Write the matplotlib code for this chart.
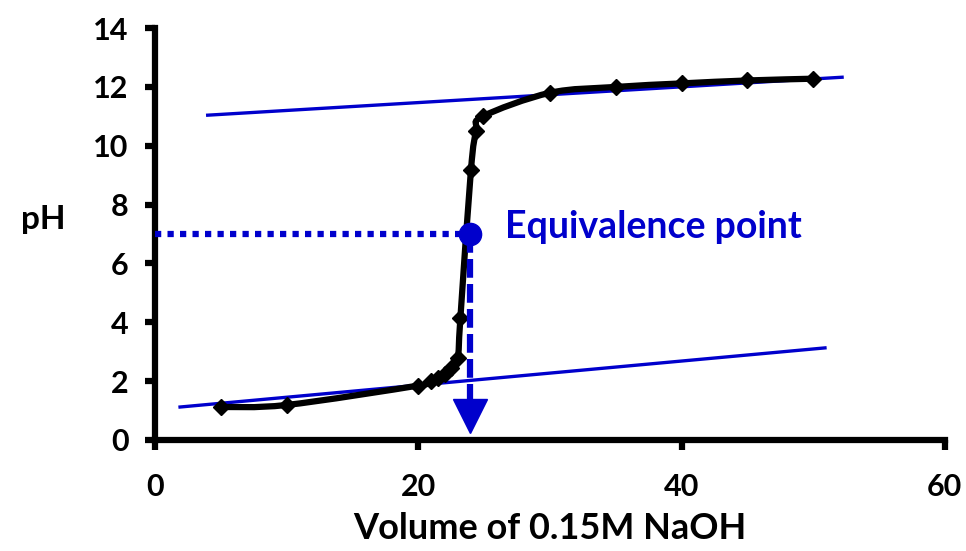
import numpy as np
import matplotlib.pyplot as plt
from matplotlib.path import Path
from matplotlib.patches import PathPatch

# Titration curve data (volume of NaOH in mL, pH)
volume = [5, 10, 20, 21, 21.5, 22, 22.5, 23, 23.2, 24.0, 24.4, 24.9, 30, 35, 40, 45, 50]
ph = [1.12, 1.19, 1.85, 2.0, 2.1, 2.25, 2.45, 2.8, 4.15, 9.17, 10.5, 11.0, 11.8, 12.0, 12.12, 12.22, 12.28]

# Tangent lines through the buffer regions
upper_x = [4.0, 52.2]
upper_y = [11.04, 12.33]
lower_x = [1.9, 50.9]
lower_y = [1.12, 3.13]

# Equivalence point
eq_x = 23.9
eq_ph = 7.0

blue = "#0000CC"
plt.rcParams["font.family"] = ["Lato", "DejaVu Sans"]
plt.rcParams["font.weight"] = "bold"


def smooth_path(xs, ys):
    # Excel-style smoothed line: cubic bezier through every point
    p = np.column_stack([xs, ys])
    verts = [p[0]]
    codes = [Path.MOVETO]
    n = len(p)
    for i in range(n - 1):
        prev = p[i - 1] if i > 0 else p[i]
        nxt = p[i + 2] if i + 2 < n else p[i + 1]
        c1 = p[i] + (p[i + 1] - prev) / 6
        c2 = p[i + 1] - (nxt - p[i]) / 6
        verts += [c1, c2, p[i + 1]]
        codes += [Path.CURVE4] * 3
    return Path(verts, codes)


fig = plt.figure(figsize=(9.66, 5.51), dpi=100)
ax = fig.add_axes([0.1605, 0.2015, 0.8175, 0.7475])

ax.plot(upper_x, upper_y, color=blue, lw=2.4, zorder=2)
ax.plot(lower_x, lower_y, color=blue, lw=2.4, zorder=2)

ax.add_patch(PathPatch(smooth_path(volume, ph), facecolor="none",
                       edgecolor="black", lw=4.5, zorder=3))
ax.plot(volume, ph, linestyle="none", color="black", marker="D", ms=8.5, zorder=3)

# dotted line to the y axis and dashed line down to the x axis
ax.plot([0, eq_x], [eq_ph, eq_ph], color=blue, lw=4.5,
        linestyle=(0, (1, 1)), dash_capstyle="butt", zorder=4)
ax.plot([eq_x, eq_x], [eq_ph, 1.3], color=blue, lw=4.5,
        linestyle=(0, (3, 1)), dash_capstyle="butt", zorder=4)
ax.plot([eq_x], [0.8], marker="v", ms=25, color=blue, zorder=5, clip_on=False)
ax.plot([eq_x], [eq_ph], marker="o", ms=16, color=blue, zorder=6)

ax.text(26.6, 7.25, "Equivalence point", color=blue, fontsize=27,
        fontweight="bold", va="center", ha="left")

ax.set_xlim(0, 60)
ax.set_ylim(0, 14)
ax.set_xticks([0, 20, 40, 60])
ax.set_yticks(range(0, 15, 2))

for side in ["top", "right"]:
    ax.spines[side].set_visible(False)
for side in ["left", "bottom"]:
    ax.spines[side].set_linewidth(4.5)
ax.tick_params(direction="out", length=7, width=4.5, labelsize=22)
ax.tick_params(axis="y", pad=12)
ax.tick_params(axis="x", pad=17)

ax.set_xlabel("Volume of 0.15M NaOH", fontsize=26, fontweight="bold", labelpad=8)
ax.set_ylabel("pH", fontsize=24, fontweight="bold", rotation=0)
ax.yaxis.set_label_coords(-0.142, 0.5)

fig.savefig("out.png", dpi=100)
